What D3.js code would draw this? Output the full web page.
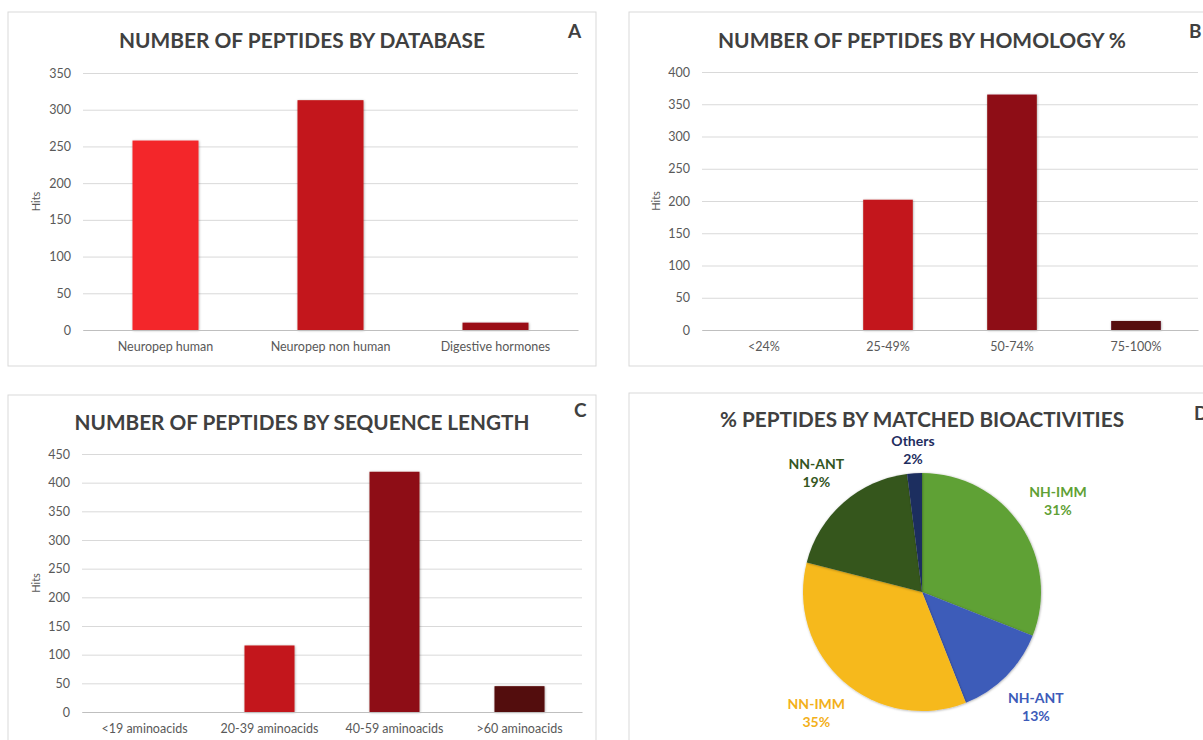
<!DOCTYPE html>
<html>
<head>
<meta charset="utf-8">
<script src="https://cdn.jsdelivr.net/npm/d3@7"></script>
<style>
  body { margin: 0; background: #fff; }
  svg { display: block; font-family: Lato, "Open Sans", sans-serif; }
  .tick text { fill: #595959; font-size: 12.5px; font-family: Lato, "Open Sans", sans-serif; }
</style>
</head>
<body>
<svg id="chart" width="1203" height="740"></svg>
<script>
// panel A
const dbCategories = ["Neuropep human", "Neuropep non human", "Digestive hormones"];
const dbValues = [258, 313, 10];
const dbColors = ["#F3282B", "#C3161B", "#9A1014"];
const dbTicks = [0, 50, 100, 150, 200, 250, 300, 350];

// panel B
const homCategories = ["<24%", "25-49%", "50-74%", "75-100%"];
const homValues = [0, 202, 365, 14];
const homColors = ["#C3161B", "#C3161B", "#8E1013", "#570809"];
const homTicks = [0, 50, 100, 150, 200, 250, 300, 350, 400];

// panel C
const lenCategories = ["<19 aminoacids", "20-39 aminoacids", "40-59 aminoacids", ">60 aminoacids"];
const lenValues = [0, 116, 419, 45];
const lenColors = ["#C3161B", "#C3161B", "#8E1013", "#520808"];
const lenTicks = [0, 50, 100, 150, 200, 250, 300, 350, 400, 450];

// panel D
const bioLabels = ["NH-IMM", "NH-ANT", "NN-IMM", "NN-ANT", "Others"];
const bioValues = [31, 13, 35, 19, 2];
const bioColors = ["#5FA135", "#3D5BB9", "#F6B91D", "#34561F", "#1F2D5F"];

const svg = d3.select("#chart");

const defs = svg.append("defs");
const shadow = defs.append("filter").attr("id", "shadow")
  .attr("x", "-20%").attr("y", "-20%").attr("width", "140%").attr("height", "140%");
shadow.append("feDropShadow").attr("dx", 0.5).attr("dy", 0.5)
  .attr("stdDeviation", 0.8).attr("flood-color", "#000").attr("flood-opacity", 0.35);

function panelBox(x, y, w, h, title, titleX, titleY, titleLen, letter, letterX, letterY) {
  svg.append("rect")
    .attr("x", x).attr("y", y).attr("width", w).attr("height", h)
    .attr("fill", "#fff").attr("stroke", "#D9D9D9").attr("stroke-width", 1);
  svg.append("text")
    .attr("x", titleX).attr("y", titleY)
    .attr("text-anchor", "middle")
    .attr("font-size", 20).attr("font-weight", "bold").attr("fill", "#404040")
    .attr("textLength", titleLen).attr("lengthAdjust", "spacingAndGlyphs")
    .text(title);
  svg.append("text")
    .attr("x", letterX).attr("y", letterY)
    .attr("font-size", 19).attr("font-weight", "bold").attr("fill", "#404040")
    .text(letter);
}

function barChart(cfg) {
  const x = d3.scaleBand()
    .domain(cfg.categories)
    .range(cfg.xRange)
    .paddingInner(0.6)
    .paddingOuter(0.3);
  const y = d3.scaleLinear()
    .domain([0, d3.max(cfg.ticks)])
    .range(cfg.yRange);

  const g = svg.append("g");

  const yAxis = g.append("g")
    .attr("transform", `translate(${cfg.xRange[0]},0)`)
    .call(d3.axisLeft(y).tickValues(cfg.ticks).tickSize(-(cfg.xRange[1] - cfg.xRange[0])).tickPadding(12));
  yAxis.select(".domain").remove();
  yAxis.selectAll(".tick line").attr("stroke", "#D9D9D9");

  g.append("text")
    .attr("transform", `translate(${cfg.hitsX},${(cfg.yRange[0] + cfg.yRange[1]) / 2}) rotate(-90)`)
    .attr("text-anchor", "middle")
    .attr("font-size", 11).attr("fill", "#595959")
    .text("Hits");

  g.selectAll(".bar")
    .data(cfg.values)
    .enter()
    .append("rect")
    .attr("class", "bar")
    .attr("x", (d, i) => x(cfg.categories[i]))
    .attr("width", x.bandwidth())
    .attr("y", d => y(d))
    .attr("height", d => y(0) - y(d))
    .attr("fill", (d, i) => cfg.colors[i])
    .attr("filter", "url(#shadow)");

  const xAxis = g.append("g")
    .attr("transform", `translate(0,${cfg.yRange[0]})`)
    .call(d3.axisBottom(x).tickSize(0).tickPadding(12));
  xAxis.select(".domain").attr("stroke", "#BFBFBF");
}

// A
panelBox(8, 12, 588, 354, "NUMBER OF PEPTIDES BY DATABASE", 302, 48, 366, "A", 568, 38);
barChart({
  categories: dbCategories, values: dbValues, colors: dbColors, ticks: dbTicks,
  xRange: [83, 578], yRange: [330, 73], hitsX: 40
});

// B
panelBox(629, 12, 600, 354, "NUMBER OF PEPTIDES BY HOMOLOGY %", 922, 48, 408, "B", 1189, 38);
barChart({
  categories: homCategories, values: homValues, colors: homColors, ticks: homTicks,
  xRange: [702, 1198], yRange: [330, 72], hitsX: 660
});

// C
panelBox(8, 395, 588, 360, "NUMBER OF PEPTIDES BY SEQUENCE LENGTH", 302, 430, 455, "C", 574, 417);
barChart({
  categories: lenCategories, values: lenValues, colors: lenColors, ticks: lenTicks,
  xRange: [82, 582], yRange: [712, 454], hitsX: 40
});

// D
panelBox(629, 393, 600, 360, "% PEPTIDES BY MATCHED BIOACTIVITIES", 922, 427, 404, "D", 1194, 420);

const cx = 922, cy = 592, radius = 119;
const pie = d3.pie().sort(null).value(d => d);
const arc = d3.arc().innerRadius(0).outerRadius(radius);

// labels sit outside the slice, a bit further out on the sides
function labelPos(d) {
  const a = (d.startAngle + d.endAngle) / 2;
  const r = 142 + 27 * Math.abs(Math.sin(a));
  return [r * Math.sin(a), -r * Math.cos(a)];
}

const pg = svg.append("g").attr("transform", `translate(${cx},${cy})`);
const arcs = pg.selectAll(".arc")
  .data(pie(bioValues))
  .enter()
  .append("g")
  .attr("class", "arc");

arcs.append("path")
  .attr("d", arc)
  .attr("fill", (d, i) => bioColors[i])
  .attr("filter", "url(#shadow)");

const lbl = arcs.append("text")
  .attr("transform", d => `translate(${labelPos(d)})`)
  .attr("text-anchor", "middle")
  .attr("font-size", 14).attr("font-weight", "bold")
  .attr("fill", (d, i) => bioColors[i] === "#F6B91D" ? "#F3B01A" : bioColors[i]);
lbl.append("tspan").attr("x", 0).attr("dy", "-0.2em").text((d, i) => bioLabels[i]);
lbl.append("tspan").attr("x", 0).attr("dy", "1.3em").text(d => d.data + "%");
</script>
</body>
</html>
